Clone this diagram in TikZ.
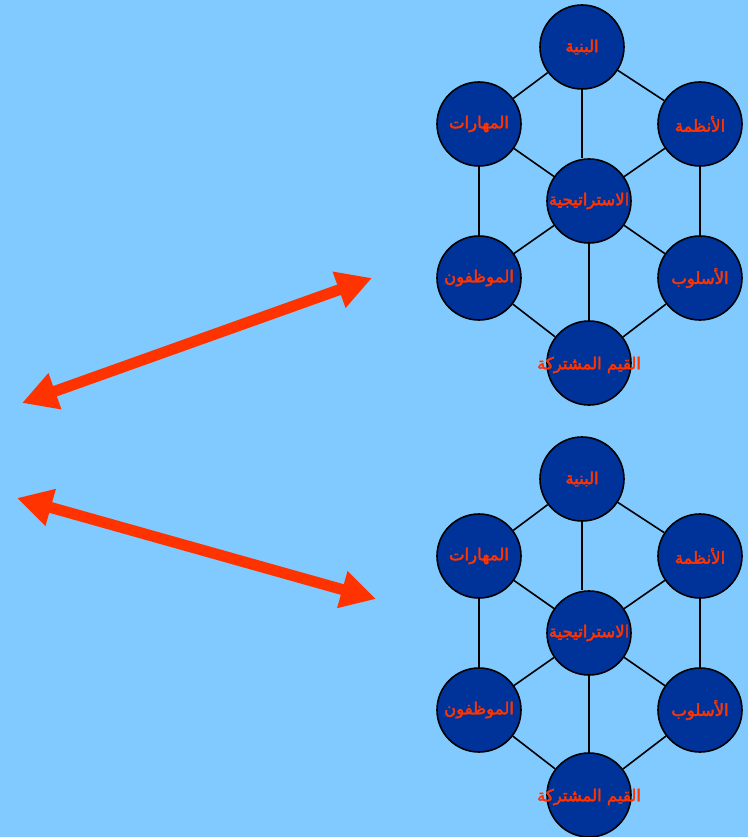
\documentclass[tikz,border=0pt]{standalone}
\usepackage{fontspec}
\newfontfamily\arabicfont[Script=Arabic,FakeBold=2.5]{DejaVu Sans}
\TeXXeTstate=1
\usetikzlibrary{arrows.meta}
\definecolor{bgblue}{HTML}{80CAFF}
\definecolor{circfill}{HTML}{003399}
\definecolor{txtred}{HTML}{FF3300}
\tikzset{
  circ/.style={circle, draw=black, fill=circfill, line width=1.6pt, minimum size=84pt, inner sep=0pt},
  lbl/.style={text=txtred, font=\arabicfont\fontsize{16.5}{18}\selectfont, inner sep=0pt},
  link/.style={draw=black, line width=1.6pt},
  bigarrow/.style={draw=txtred, line width=11pt, {Triangle[length=35pt,width=36pt]}-{Triangle[length=35pt,width=36pt]}},
}
\begin{document}
\begin{tikzpicture}[x=1pt,y=-1pt]
\fill[bgblue] (0,0) rectangle (748,837);
\useasboundingbox (0,0) rectangle (748,837);
\foreach \d/\off in {A/0,B/432}{
  \begin{scope}[shift={(0,\off)}]
    \node[circ] (S\d) at (582,47) {};
    \node[circ] (K\d) at (479,124) {};
    \node[circ] (Y\d) at (700,124) {};
    \node[circ] (T\d) at (589,201) {};
    \node[circ] (M\d) at (479,278) {};
    \node[circ] (U\d) at (700,278) {};
    \node[circ] (V\d) at (589,363) {};
    \draw[link] (S\d) -- (K\d);
    \draw[link] (S\d) -- (Y\d);
    \draw[link] (S\d) -- (S\d |- T\d.north);
    \draw[link] (K\d) -- (T\d);
    \draw[link] (Y\d) -- (T\d);
    \draw[link] (K\d) -- (M\d);
    \draw[link] (Y\d) -- (U\d);
    \draw[link] (T\d) -- (M\d);
    \draw[link] (T\d) -- (U\d);
    \draw[link] (T\d) -- (V\d);
    \draw[link] (M\d) -- (V\d);
    \draw[link] (U\d) -- (V\d);
    \node[lbl] (sl\d) at (S\d) {\beginR البنية\endR};
    \node[lbl] (kl\d) at (K\d) {\beginR المهارات\endR};
    \node[lbl] (yl\d) at (Y\d) {\beginR الأنظمة\endR};
    \node[lbl] (tl\d) at (T\d) {\beginR الاستراتيجية\endR};
    \node[lbl] (ml\d) at (M\d) {\beginR الموظفون\endR};
    \node[lbl] (ul\d) at (U\d) {\beginR الأسلوب\endR};
    \node[lbl] (vl\d) at ([yshift=-2pt]V\d.center) {\beginR القيم المشتركة\endR};
  \end{scope}
}
\coordinate (a1l) at (22,403);
\coordinate (a1r) at (372,278);
\coordinate (a2l) at (17,498);
\coordinate (a2r) at (376,599);
\draw[bigarrow] (a1l) -- (a1r);
\draw[bigarrow] (a2l) -- (a2r);
\end{tikzpicture}
\end{document}
